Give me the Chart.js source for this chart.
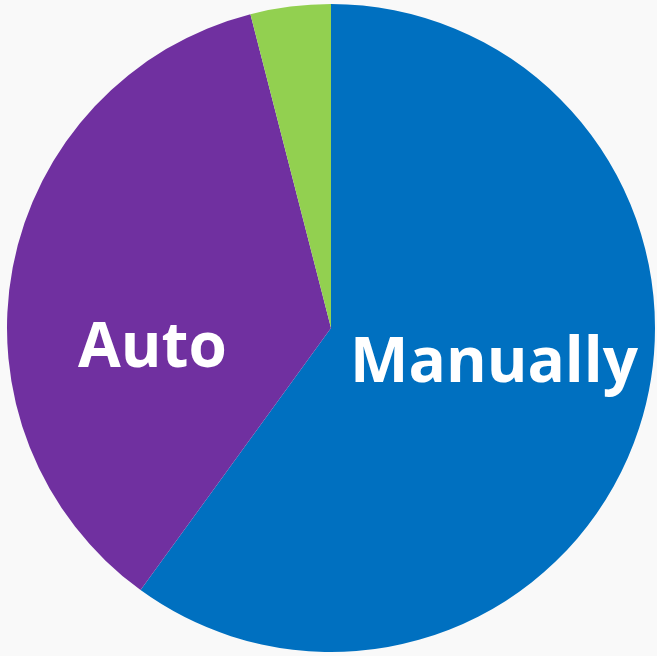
<!DOCTYPE html>
<html>
<head>
<meta charset="utf-8">
<script src="https://cdn.jsdelivr.net/npm/chart.js@4/dist/chart.umd.min.js"></script>
<style>
  html, body { margin: 0; padding: 0; background: #f9f9f9; }
  #wrap { width: 657px; height: 656px; }
</style>
</head>
<body>
<div id="wrap"><canvas id="pie"></canvas></div>
<script>
const labels = ["Manually", "Auto", ""];
const values = [60, 36, 4];
const colors = ["#0070c0", "#7030a0", "#92d050"];

// where each slice label sits, as a share of the radius from the centre
const labelSpots = [[0.503, 0.167], [-0.551, 0.12], null];

const sliceLabels = {
  id: "sliceLabels",
  afterDatasetsDraw(chart) {
    const ctx = chart.ctx;
    const arc = chart.getDatasetMeta(0).data[0];
    const { x, y, outerRadius } = arc.getProps(["x", "y", "outerRadius"], true);
    ctx.save();
    ctx.fillStyle = "#ffffff";
    ctx.font = "bold 62px 'Open Sans'";
    ctx.textAlign = "center";
    ctx.textBaseline = "alphabetic";
    labels.forEach((txt, i) => {
      const spot = labelSpots[i];
      if (!txt || !spot) return;
      ctx.fillText(txt, x + spot[0] * outerRadius, y + spot[1] * outerRadius);
    });
    ctx.restore();
  }
};

new Chart(document.getElementById("pie"), {
  type: "pie",
  data: {
    labels: labels,
    datasets: [{
      data: values,
      backgroundColor: colors,
      borderWidth: 0
    }]
  },
  options: {
    responsive: true,
    maintainAspectRatio: false,
    animation: false,
    layout: { padding: { left: 7, right: 2, top: 4, bottom: 4 } },
    plugins: {
      legend: { display: false },
      tooltip: { enabled: false }
    }
  },
  plugins: [sliceLabels]
});
</script>
</body>
</html>
